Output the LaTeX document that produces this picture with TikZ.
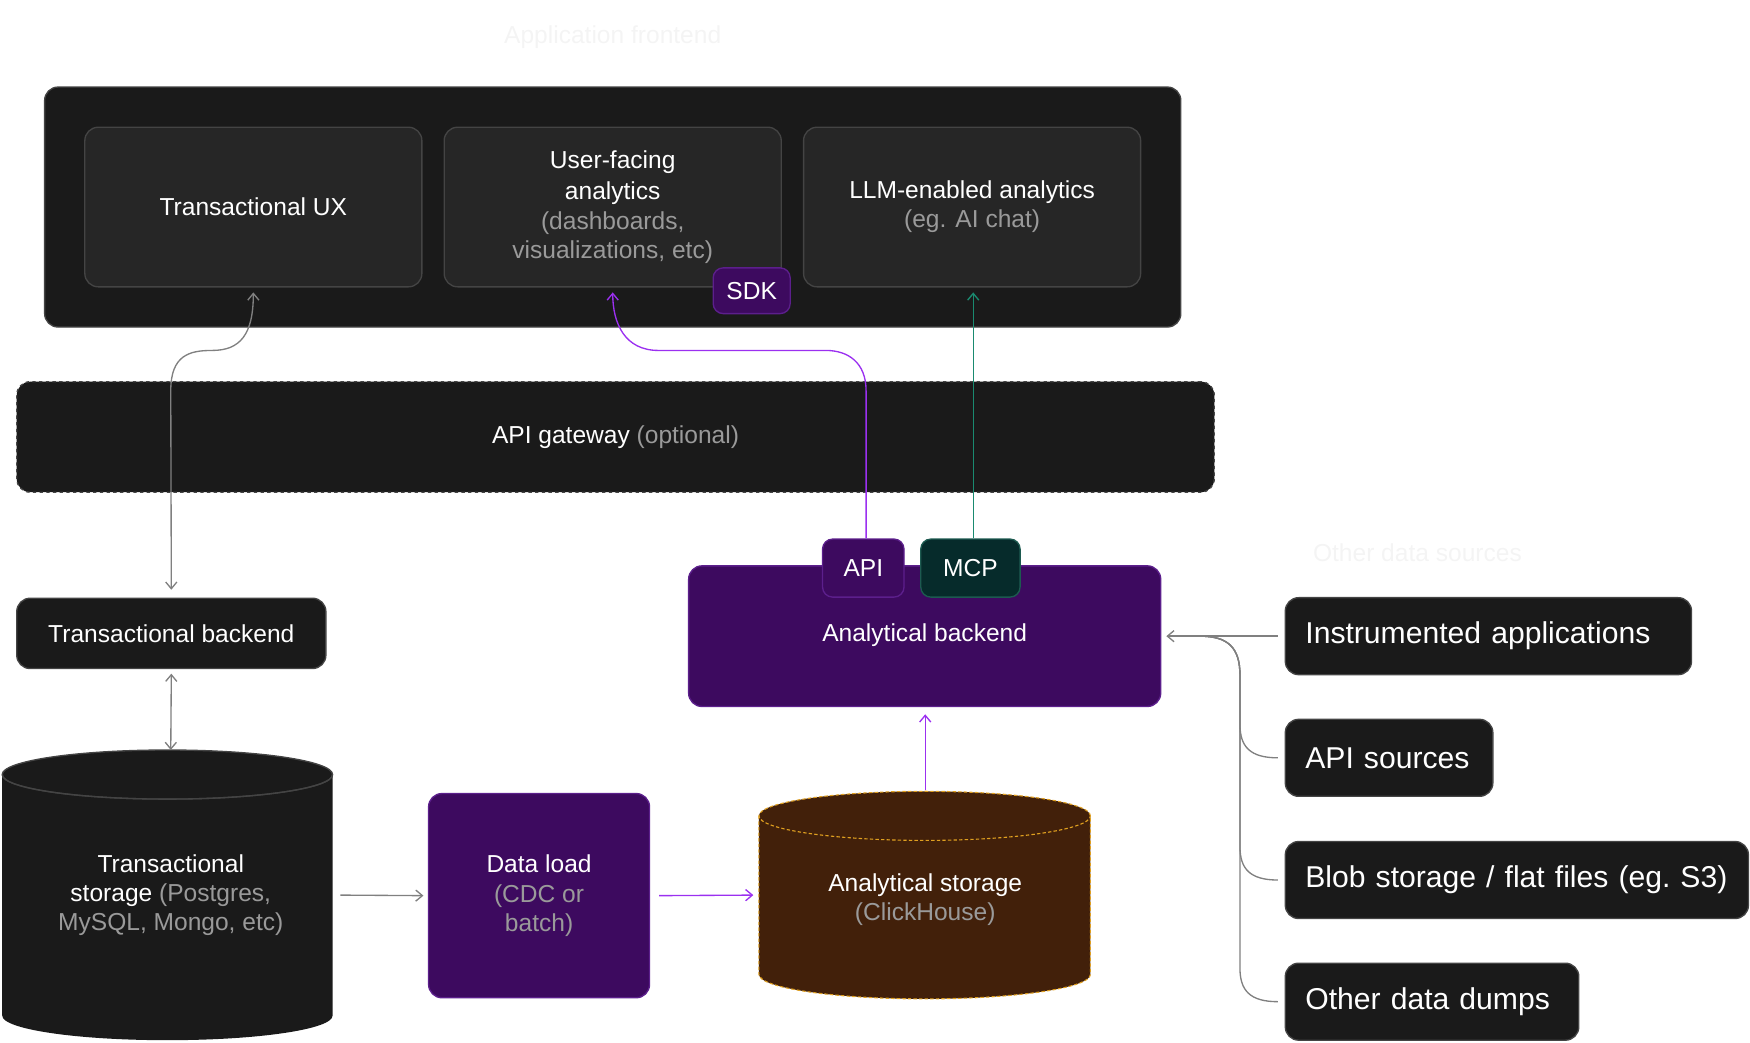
\documentclass[tikz,border=0pt]{standalone}
\usepackage{fontspec}
\setmainfont{Liberation Sans}
\usetikzlibrary{arrows.meta,positioning}
\definecolor{frontbg}{HTML}{1A1A1A}
\definecolor{cardbg}{HTML}{262626}
\definecolor{cardln}{HTML}{444444}
\definecolor{purp}{HTML}{3D0A5F}
\definecolor{purpln}{HTML}{5C1F8C}
\definecolor{purparr}{HTML}{9B30F0}
\definecolor{teal}{HTML}{062B2B}
\definecolor{tealln}{HTML}{1D5A50}
\definecolor{tealarr}{HTML}{1A8A70}
\definecolor{brown}{HTML}{42200A}
\definecolor{orng}{HTML}{E0A020}
\definecolor{muted}{HTML}{9A9A9A}
\definecolor{faint}{HTML}{F4F4F4}
\newcommand{\sub}[1]{\textcolor{muted}{#1}}
\tikzset{
  box/.style={draw=cardln, line width=1.2pt, rounded corners=12pt, text=white,
    align=center, inner sep=0pt, font=\fontsize{22}{26}\selectfont},
  card/.style={box, fill=cardbg, minimum width=302pt, minimum height=143pt},
  pbox/.style={box, fill=purp, draw=purpln},
  badge/.style={box, rounded corners=9pt, font=\fontsize{22}{26}\selectfont},
  src/.style={box, fill=frontbg, minimum height=69pt, font=\fontsize{27}{30}\selectfont, text width=#1, align=left, inner xsep=18pt},
  conn/.style={-{Straight Barb[length=6pt,width=10pt]}, line width=1.2pt, draw=gray},
  both/.style={conn, {Straight Barb[length=6pt,width=10pt]}-{Straight Barb[length=6pt,width=10pt]}},
}
\begin{document}
\begin{tikzpicture}[x=1pt,y=-1pt]
  \useasboundingbox (0,0) rectangle (1568,934);

  % frontend
  \node[text=faint, font=\fontsize{22}{26}\selectfont] (fronttitle) at (549,33) {Application frontend};
  \node[box, fill=frontbg, minimum width=1018pt, minimum height=215pt] (front) at (549,185.5) {};
  \node[card] (txux) at (227,185.5) {Transactional UX};
  \node[card] (ufa) at (549,185.5) {User-facing\\[2pt] analytics\\ \sub{(dashboards,}\\ \sub{visualizations, etc)}};
  \node[card] (llm) at (871,185.5) {LLM-enabled analytics\\ \sub{(eg. AI chat)}};
  \node[badge, fill=purp, draw=purpln, minimum width=69pt, minimum height=41pt] (sdk) at (673.5,260.5) {SDK};

  % gateway
  \node[box, fill=frontbg, dashed, minimum width=1073pt, minimum height=99pt] (gw) at (551.5,391.5) {API gateway \sub{(optional)}};

  % transactional side
  \node[box, fill=frontbg, minimum width=277pt, minimum height=63pt] (txbe) at (153.5,567.5) {Transactional backend};
  \fill[frontbg] (2,694) -- (2,910) arc[start angle=180,end angle=360,x radius=148pt,y radius=22pt] -- (298,694) arc[start angle=0,end angle=180,x radius=148pt,y radius=22pt];
  \draw[cardln, line width=1.2pt] (2,694) arc[start angle=180,end angle=360,x radius=148pt,y radius=22pt];
  \draw[cardln, line width=1.2pt] (150,694) ellipse[x radius=148pt,y radius=22pt];
  \coordinate (txtop) at (153,672);
  \node[text=white, align=center, font=\fontsize{22}{26}\selectfont] (txst) at (153,802) {Transactional\\ storage \sub{(Postgres,}\\ \sub{MySQL, Mongo, etc)}};
  \coordinate (txright) at (305,802);

  \node[pbox, minimum width=198pt, minimum height=183pt] (load) at (483,802.5) {Data load\\ \sub{(CDC or}\\ \sub{batch)}};

  % analytical storage
  \fill[brown] (680,731) -- (680,873) arc[start angle=180,end angle=360,x radius=148.5pt,y radius=22pt] -- (977,731) arc[start angle=0,end angle=180,x radius=148.5pt,y radius=22pt];
  \draw[orng, densely dashed, line width=1pt] (680,731) -- (680,873) arc[start angle=180,end angle=360,x radius=148.5pt,y radius=22pt] -- (977,731);
  \draw[orng, densely dashed, line width=1pt] (828.5,731) ellipse[x radius=148.5pt,y radius=22pt];
  \node[text=white, align=center, font=\fontsize{22}{26}\selectfont] (anst) at (829,806) {Analytical storage\\ \sub{(ClickHouse)}};
  \coordinate (anleft) at (675,802);
  \coordinate (antop) at (829,708);

  % analytical backend
  \node[pbox, minimum width=423pt, minimum height=126pt] (anbe) at (828.5,570) {};
  \node[text=white, font=\fontsize{22}{26}\selectfont] (anbelbl) at (828.5,569) {Analytical backend};
  \node[badge, fill=purp, draw=purpln, minimum width=73pt, minimum height=52pt] (api) at (773.5,509) {API};
  \node[badge, fill=teal, draw=tealln, minimum width=89pt, minimum height=52pt] (mcp) at (869.5,509) {MCP};

  % other sources
  \node[text=faint, font=\fontsize{22}{26}\selectfont] (srctitle) at (1270,495) {Other data sources};
  \node[src=328pt, anchor=west] (inst) at (1151,570) {Instrumented applications};
  \node[src=150pt, anchor=west] (apis) at (1151,679) {API sources};
  \node[src=379pt, anchor=west] (blob) at (1151,788.5) {Blob storage / flat files (eg.~S3)};
  \node[src=227pt, anchor=west] (dumps) at (1151,897.5) {Other data dumps};

  % connectors
  \draw[both] ([yshift=7pt]txbe.north) -- (153,350) .. controls (153,318) and (170,314) .. (190,314) .. controls (215,314) and (227,300) .. (227,262);
  \draw[both] ([yshift=-4pt]txbe.south) -- (txtop);
  \draw[conn] (txright) -- ([xshift=-4pt]load.west);
  \draw[conn, draw=purparr] ([xshift=8pt]load.east) -- (anleft);
  \draw[conn, draw=purparr] (antop) -- (829,640);
  \draw[conn, draw=purparr] ([xshift=2.5pt]api.north) -- (776,350) .. controls (776,325) and (760,314) .. (740,314) -- (590,314) .. controls (560,314) and (549,290) .. (549,262);
  \draw[conn, draw=tealarr] ([xshift=2.5pt]mcp.north) -- (872,262);
  \draw[conn] ([xshift=-6pt]inst.west) -- (1045,570);
  \foreach \s/\yy in {apis/679,blob/788.5,dumps/897.5}
    \draw[line width=1.2pt, gray] ([xshift=-6pt]\s.west) .. controls (1120,\yy) and (1111,\yy-10) .. (1111,\yy-30)
      -- (1111,605) .. controls (1111,580) and (1100,570) .. (1075,570);
\end{tikzpicture}
\end{document}
